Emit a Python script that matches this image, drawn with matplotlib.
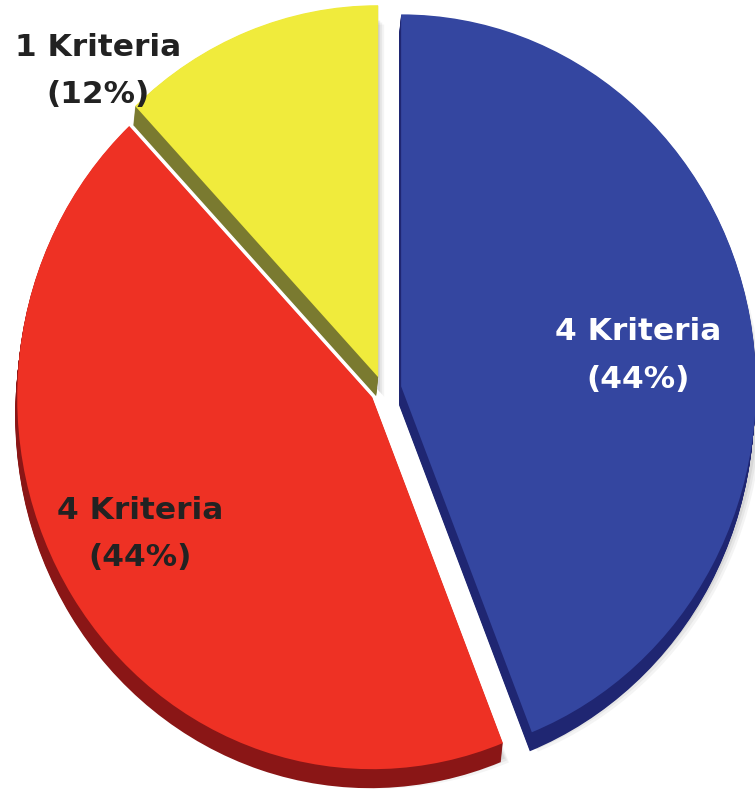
import numpy as np
import matplotlib
matplotlib.use("Agg")
import matplotlib.pyplot as plt

# ---- data ----
categories = ["4 Kriteria", "4 Kriteria", "1 Kriteria"]
percent = [44, 44, 12]
face_colors = ["#3446A0", "#EE3124", "#F0EB3C"]
side_colors = ["#1F2672", "#8A1616", "#7A7A30"]
text_colors = ["white", "#222222", "#222222"]

# ---- layout (pixel-based helpers) ----
W, H = 755, 800
RX, RY = 355.0, 372.0          # ellipse radii in px
BX, BY = 383.0, 390.0          # base centre in px
explode = [0.052, 0.036, 0.037]
label_dist = [0.673, 0.75, 1.14]
label_shift = [-3.7, -3.0, 22.2]   # degrees relative to wedge mid angle
depth = (-2.0, 19.0)            # extrusion offset in px (right, down)

fig = plt.figure(figsize=(W / 100, H / 100), dpi=100)
ax = fig.add_axes([0, 0, 1, 1])

def px2d(dx, dy):
    return dx / RX, -dy / RY

# soft drop shadow
for (sx, sy, a) in [(8, 8, 0.08), (6, 6, 0.10), (4, 4, 0.14)]:
    cx, cy = px2d(sx + depth[0], sy + depth[1] * 0.6)
    ax.pie(percent, colors=["#777777"] * 3, startangle=90, counterclock=False,
           explode=explode, center=(cx, cy), radius=1.0,
           wedgeprops=dict(linewidth=0, alpha=a), frame=True)

# extruded sides
nsteps = 20
for s in np.linspace(1.0, 0.04, nsteps):
    cx, cy = px2d(depth[0] * s, depth[1] * s)
    ax.pie(percent, colors=side_colors, startangle=90, counterclock=False,
           explode=explode, center=(cx, cy), radius=1.0,
           wedgeprops=dict(linewidth=0), frame=True)

# top faces
ax.pie(percent, colors=face_colors, startangle=90, counterclock=False,
       explode=explode, center=(0, 0), radius=1.0,
       wedgeprops=dict(linewidth=0), frame=True)

# labels
total = sum(percent)
cum = 0.0
for i, (cat, p) in enumerate(zip(categories, percent)):
    mid = 90.0 - 360.0 * (cum + p / 2.0) / total
    cum += p
    t = np.deg2rad(mid)
    cx, cy = explode[i] * np.cos(t), explode[i] * np.sin(t)
    tl = np.deg2rad(mid + label_shift[i])
    lx = cx + label_dist[i] * np.cos(tl)
    ly = cy + label_dist[i] * np.sin(tl)
    ax.text(lx, ly, f"{cat}\n({p}%)", ha="center", va="center",
            fontsize=22.5, fontweight="bold", color=text_colors[i],
            family="DejaVu Sans", linespacing=1.8, multialignment="center")

ax.set_aspect("auto")
ax.set_xlim(-BX / RX, (W - BX) / RX)
ax.set_ylim(-(H - BY) / RY, BY / RY)
ax.axis("off")

fig.savefig("out.png", dpi=100, facecolor="white")
